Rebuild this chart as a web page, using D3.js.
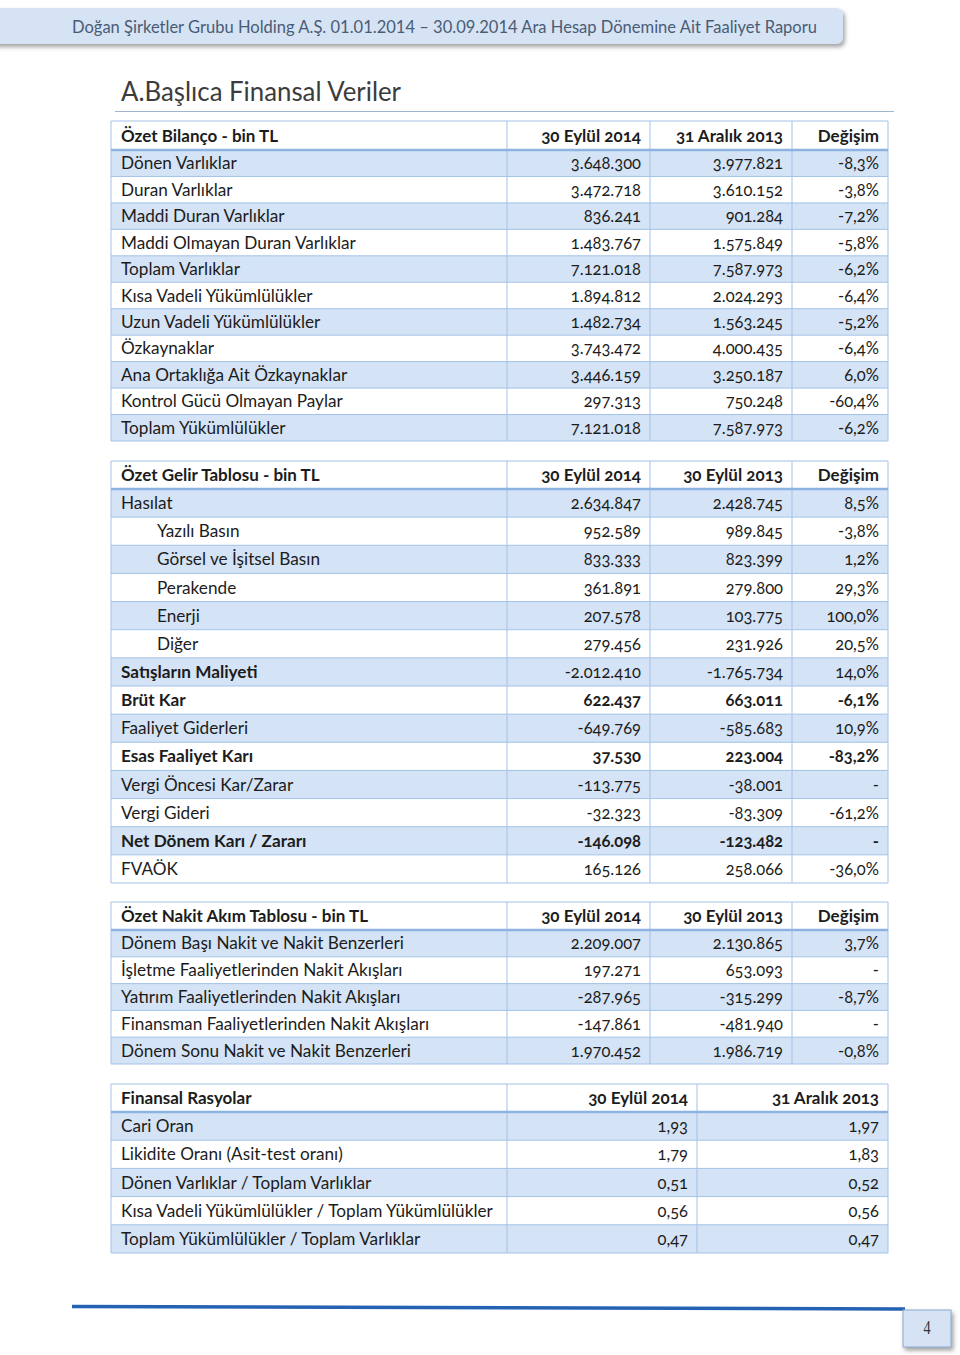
<!DOCTYPE html>
<html><head><meta charset="utf-8">
<script src="https://cdn.jsdelivr.net/npm/d3@7"></script>
<style>
html,body{margin:0;padding:0;background:#fff;}
svg{display:block;}
.num{font-variant-numeric:oldstyle-nums;}
</style></head>
<body>
<script>
// ---------- DATA ----------
const headerText = "Doğan Şirketler Grubu Holding A.Ş. 01.01.2014 – 30.09.2014 Ara Hesap Dönemine Ait Faaliyet Raporu";
const titleText = "A.Başlıca Finansal Veriler";
const pageNumber = "4";

const bilancoHeader = ["Özet Bilanço - bin TL", "30 Eylül 2014", "31 Aralık 2013", "Değişim"];
const bilancoLabels = ["Dönen Varlıklar","Duran Varlıklar","Maddi Duran Varlıklar","Maddi Olmayan Duran Varlıklar","Toplam Varlıklar","Kısa Vadeli Yükümlülükler","Uzun Vadeli Yükümlülükler","Özkaynaklar","Ana Ortaklığa Ait Özkaynaklar","Kontrol Gücü Olmayan Paylar","Toplam Yükümlülükler"];
const bilanco2014 = ["3.648.300","3.472.718","836.241","1.483.767","7.121.018","1.894.812","1.482.734","3.743.472","3.446.159","297.313","7.121.018"];
const bilanco2013 = ["3.977.821","3.610.152","901.284","1.575.849","7.587.973","2.024.293","1.563.245","4.000.435","3.250.187","750.248","7.587.973"];
const bilancoChange = ["-8,3%","-3,8%","-7,2%","-5,8%","-6,2%","-6,4%","-5,2%","-6,4%","6,0%","-60,4%","-6,2%"];

const gelirHeader = ["Özet Gelir Tablosu - bin TL", "30 Eylül 2014", "30 Eylül 2013", "Değişim"];
const gelirLabels = ["Hasılat","Yazılı Basın","Görsel ve İşitsel Basın","Perakende","Enerji","Diğer","Satışların Maliyeti","Brüt Kar","Faaliyet Giderleri","Esas Faaliyet Karı","Vergi Öncesi Kar/Zarar","Vergi Gideri","Net Dönem Karı / Zararı","FVAÖK"];
const gelir2014 = ["2.634.847","952.589","833.333","361.891","207.578","279.456","-2.012.410","622.437","-649.769","37.530","-113.775","-32.323","-146.098","165.126"];
const gelir2013 = ["2.428.745","989.845","823.399","279.800","103.775","231.926","-1.765.734","663.011","-585.683","223.004","-38.001","-83.309","-123.482","258.066"];
const gelirChange = ["8,5%","-3,8%","1,2%","29,3%","100,0%","20,5%","14,0%","-6,1%","10,9%","-83,2%","-","-61,2%","-","-36,0%"];
const gelirIndent = [0,1,1,1,1,1,0,0,0,0,0,0,0,0];
const gelirLabelBold = [0,0,0,0,0,0,1,1,0,1,0,0,1,0];
const gelirValueBold = [0,0,0,0,0,0,0,1,0,1,0,0,1,0];

const nakitHeader = ["Özet Nakit Akım Tablosu - bin TL", "30 Eylül 2014", "30 Eylül 2013", "Değişim"];
const nakitLabels = ["Dönem Başı Nakit ve Nakit Benzerleri","İşletme Faaliyetlerinden Nakit Akışları","Yatırım Faaliyetlerinden Nakit Akışları","Finansman Faaliyetlerinden Nakit Akışları","Dönem Sonu Nakit ve Nakit Benzerleri"];
const nakit2014 = ["2.209.007","197.271","-287.965","-147.861","1.970.452"];
const nakit2013 = ["2.130.865","653.093","-315.299","-481.940","1.986.719"];
const nakitChange = ["3,7%","-","-8,7%","-","-0,8%"];

const rasyoHeader = ["Finansal Rasyolar", "30 Eylül 2014", "31 Aralık 2013"];
const rasyoLabels = ["Cari Oran","Likidite Oranı (Asit-test oranı)","Dönen Varlıklar / Toplam Varlıklar","Kısa Vadeli Yükümlülükler / Toplam Yükümlülükler","Toplam Yükümlülükler / Toplam Varlıklar"];
const rasyo2014 = ["1,93","1,79","0,51","0,56","0,47"];
const rasyo2013 = ["1,97","1,83","0,52","0,56","0,47"];

// ---------- DRAW ----------
const W = 960, H = 1355;
const FONT = "Lato, 'Open Sans', sans-serif";
const BLUE = "#d4e3f5", BORDER = "#a3c2e6", HEADBORDER = "#8db3e2", TXT = "#1c1c1c";

const svg = d3.select("body").append("svg").attr("width", W).attr("height", H)
  .style("font-family", FONT);

const defs = svg.append("defs");
const f = defs.append("filter").attr("id","sh").attr("x","-10%").attr("y","-30%").attr("width","130%").attr("height","200%");
f.append("feDropShadow").attr("dx",2).attr("dy",3).attr("stdDeviation",2.2).attr("flood-color","#555").attr("flood-opacity",0.55);

// header banner
svg.append("path")
  .attr("d", "M-10,8 L836,8 Q843,8 843,15 L843,37 Q843,44 836,44 L-10,44 Z")
  .attr("fill", "#d5e3f5").attr("filter","url(#sh)");
svg.append("text").attr("x", 72).attr("y", 32.5)
  .attr("font-size", 16.5).attr("fill", "#4a5c74")
  .attr("textLength", 745).attr("lengthAdjust","spacingAndGlyphs")
  .text(headerText);

// title
svg.append("text").attr("x", 121).attr("y", 101)
  .attr("font-size", 26).attr("fill", "#3c3c3c")
  .attr("textLength", 280).attr("lengthAdjust","spacingAndGlyphs")
  .text(titleText);
svg.append("line").attr("x1",115).attr("x2",894).attr("y1",111.5).attr("y2",111.5)
  .attr("stroke","#9fb6cc").attr("stroke-width",1.2);

function drawTable(cfg) {
  const n = cfg.labels.length;
  const g = svg.append("g");
  const y = d3.scaleBand().domain(d3.range(n)).range([cfg.top + cfg.headH, cfg.bottom]);
  const left = cfg.colEdges[0], right = cfg.colEdges[cfg.colEdges.length-1];

  g.selectAll("rect.row").data(d3.range(n)).join("rect")
    .attr("x", left).attr("width", right-left)
    .attr("y", d => y(d)).attr("height", y.bandwidth())
    .attr("fill", d => d % 2 === 0 ? BLUE : "#ffffff");
  g.selectAll("line.h").data(d3.range(1, n)).join("line")
    .attr("x1", left).attr("x2", right)
    .attr("y1", d => y(d)).attr("y2", d => y(d))
    .attr("stroke", BORDER).attr("stroke-width", 1);
  g.selectAll("line.v").data(cfg.colEdges).join("line")
    .attr("x1", d => d).attr("x2", d => d)
    .attr("y1", cfg.top).attr("y2", cfg.bottom)
    .attr("stroke", BORDER).attr("stroke-width", 1);
  g.append("line").attr("x1",left).attr("x2",right).attr("y1",cfg.top).attr("y2",cfg.top).attr("stroke",BORDER);
  g.append("line").attr("x1",left).attr("x2",right).attr("y1",cfg.bottom).attr("y2",cfg.bottom).attr("stroke",BORDER);
  g.append("line").attr("x1",left).attr("x2",right)
    .attr("y1",cfg.top+cfg.headH).attr("y2",cfg.top+cfg.headH)
    .attr("stroke",HEADBORDER).attr("stroke-width",2.5);

  const hy = cfg.top + cfg.headH/2 + 6;
  cfg.header.forEach((h, i) => {
    const t = g.append("text").attr("y", hy).attr("font-size", 17).attr("font-weight", 700).attr("fill", TXT).text(h);
    if (i === 0) t.attr("x", left + 10);
    else t.attr("x", cfg.colEdges[i+1] - 9).attr("text-anchor","end").attr("class","num");
  });

  const ty = d => y(d) + y.bandwidth()/2 + 6;
  g.selectAll("text.lab").data(d3.range(n)).join("text")
    .attr("x", d => left + 10 + (cfg.indent && cfg.indent[d] ? 36 : 0))
    .attr("y", ty).attr("font-size", 17.2).attr("fill", TXT)
    .attr("font-weight", d => cfg.labelBold && cfg.labelBold[d] ? 700 : 400)
    .text(d => cfg.labels[d]);
  cfg.cols.forEach((col, ci) => {
    g.selectAll("text.c"+ci).data(d3.range(n)).join("text")
      .attr("class","num")
      .attr("x", cfg.colEdges[ci+2] - 9).attr("text-anchor","end")
      .attr("y", ty).attr("font-size", 16.5).attr("fill", TXT)
      .attr("font-weight", d => cfg.valueBold && cfg.valueBold[d] ? 700 : 400)
      .text(d => col[d]);
  });
}

drawTable({top:121, headH:29, bottom:441, colEdges:[111,507,650,792,888],
  header:bilancoHeader, labels:bilancoLabels, cols:[bilanco2014,bilanco2013,bilancoChange]});
drawTable({top:461, headH:28, bottom:883, colEdges:[111,507,650,792,888],
  header:gelirHeader, labels:gelirLabels, cols:[gelir2014,gelir2013,gelirChange],
  indent:gelirIndent, labelBold:gelirLabelBold, valueBold:gelirValueBold});
drawTable({top:902, headH:28, bottom:1064, colEdges:[111,507,650,792,888],
  header:nakitHeader, labels:nakitLabels, cols:[nakit2014,nakit2013,nakitChange]});
drawTable({top:1084, headH:28, bottom:1253, colEdges:[111,507,697,888],
  header:rasyoHeader, labels:rasyoLabels, cols:[rasyo2014,rasyo2013]});

svg.append("line").attr("x1",72).attr("x2",905).attr("y1",1306.5).attr("y2",1309)
  .attr("stroke","#2463b3").attr("stroke-width",3.5);
svg.append("rect").attr("x",903).attr("y",1310).attr("width",48).attr("height",37)
  .attr("fill","#d5e3f5").attr("stroke","#8aa9cf").attr("stroke-width",1).attr("filter","url(#sh)");
svg.append("text").attr("x",927).attr("y",1334).attr("text-anchor","middle")
  .attr("font-family","'Liberation Serif', serif").attr("font-size",18).attr("fill","#333")
  .attr("transform","translate(927,1334) scale(0.8,1) translate(-927,-1334)")
  .text(pageNumber);
</script>
</body></html>
